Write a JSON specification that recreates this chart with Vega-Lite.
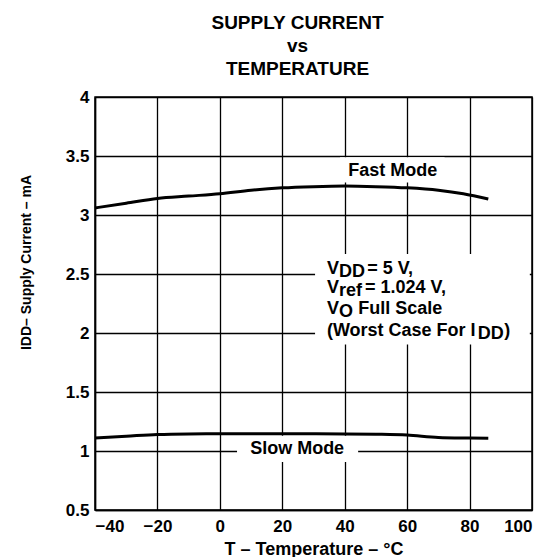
{
  "$schema": "https://vega.github.io/schema/vega-lite/v6.json",
  "autosize": "none",
  "width": 437,
  "height": 413,
  "padding": {"left": 95, "top": 97, "right": 17, "bottom": 47},
  "background": "white",
  "config": {
    "font": "Liberation Sans",
    "view": {"stroke": "black", "strokeWidth": 1.5},
    "axis": {
      "labelFont": "Liberation Sans", "labelFontWeight": "bold", "labelColor": "black",
      "titleFont": "Liberation Sans", "titleFontWeight": "bold", "titleColor": "black",
      "gridColor": "black", "gridOpacity": 1, "gridWidth": 1.3,
      "domainColor": "black", "domainWidth": 1.5, "ticks": false
    }
  },
  "title": {
    "text": ["SUPPLY CURRENT", "vs", "TEMPERATURE"],
    "fontSize": 19, "fontWeight": "bold", "font": "Liberation Sans", "color": "black",
    "lineHeight": 23, "anchor": "middle", "dx": -16, "offset": 9
  },
  "datasets": {
    "curves": [
      {"mode": "Fast", "T": -40, "I": 3.06},
      {"mode": "Fast", "T": -30, "I": 3.10},
      {"mode": "Fast", "T": -20, "I": 3.14},
      {"mode": "Fast", "T": -10, "I": 3.16},
      {"mode": "Fast", "T": 0, "I": 3.18},
      {"mode": "Fast", "T": 10, "I": 3.21},
      {"mode": "Fast", "T": 20, "I": 3.23},
      {"mode": "Fast", "T": 30, "I": 3.24},
      {"mode": "Fast", "T": 40, "I": 3.245},
      {"mode": "Fast", "T": 50, "I": 3.24},
      {"mode": "Fast", "T": 60, "I": 3.23},
      {"mode": "Fast", "T": 70, "I": 3.21},
      {"mode": "Fast", "T": 78, "I": 3.18},
      {"mode": "Fast", "T": 86, "I": 3.135},
      {"mode": "Slow", "T": -40, "I": 1.11},
      {"mode": "Slow", "T": -30, "I": 1.125},
      {"mode": "Slow", "T": -20, "I": 1.14},
      {"mode": "Slow", "T": -10, "I": 1.145},
      {"mode": "Slow", "T": 0, "I": 1.146},
      {"mode": "Slow", "T": 20, "I": 1.146},
      {"mode": "Slow", "T": 40, "I": 1.145},
      {"mode": "Slow", "T": 50, "I": 1.142},
      {"mode": "Slow", "T": 60, "I": 1.135},
      {"mode": "Slow", "T": 70, "I": 1.115},
      {"mode": "Slow", "T": 80, "I": 1.11},
      {"mode": "Slow", "T": 86, "I": 1.108}
    ],
    "boxes": [
      {"T": 38.5, "T2": 72, "I": 3.49, "I2": 3.275},
      {"T": 5.5, "T2": 44.3, "I": 1.13, "I2": 0.906},
      {"T": 30.5, "T2": 99.3, "I": 2.67, "I2": 1.902}
    ],
    "notes": [
      {"T": 41.1, "I": 3.327, "text": "Fast Mode"},
      {"T": 9.7, "I": 0.972, "text": "Slow Mode"},
      {"T": 34.3, "I": 2.50, "text": "V"},
      {"T": 38.2, "I": 2.475, "text": "DD"},
      {"T": 47.2, "I": 2.50, "text": "= 5 V,"},
      {"T": 34.3, "I": 2.335, "text": "V"},
      {"T": 38.2, "I": 2.31, "text": "ref"},
      {"T": 46.5, "I": 2.335, "text": "= 1.024 V,"},
      {"T": 34.3, "I": 2.159, "text": "V"},
      {"T": 38.2, "I": 2.132, "text": "O"},
      {"T": 44.3, "I": 2.159, "text": "Full Scale"},
      {"T": 34.3, "I": 1.972, "text": "(Worst Case For I"},
      {"T": 82.6, "I": 1.947, "text": "DD"},
      {"T": 91.1, "I": 1.972, "text": ")"}
    ]
  },
  "layer": [
    {
      "data": {"name": "boxes"},
      "mark": {"type": "rect", "fill": "white", "stroke": null},
      "encoding": {
        "x": {"field": "T", "type": "quantitative", "scale": {"domain": [-40, 100]},
          "axis": {"values": [-40, -20, 0, 20, 40, 60, 80, 100], "labelFontSize": 17, "labelPadding": 8,
            "title": "T – Temperature – °C", "titleFontSize": 18, "titlePadding": 6}},
        "x2": {"field": "T2"},
        "y": {"field": "I", "type": "quantitative", "scale": {"domain": [0.5, 4]},
          "axis": {"values": [0.5, 1, 1.5, 2, 2.5, 3, 3.5, 4], "format": ".1~f", "labelFontSize": 17, "labelPadding": 6,
            "title": "IDD– Supply Current – mA", "titleFontSize": 14, "titleX": -62, "titleY": 165, "titleAlign": "center", "titleBaseline": "bottom"}},
        "y2": {"field": "I2"}
      }
    },
    {
      "data": {"name": "curves"},
      "mark": {"type": "line", "color": "black", "strokeWidth": 3, "interpolate": "monotone"},
      "encoding": {
        "x": {"field": "T", "type": "quantitative"},
        "y": {"field": "I", "type": "quantitative"},
        "detail": {"field": "mode"}
      }
    },
    {
      "data": {"name": "notes"},
      "mark": {"type": "text", "align": "left", "baseline": "alphabetic", "fontSize": 18, "fontWeight": "bold", "font": "Liberation Sans", "color": "black"},
      "encoding": {
        "x": {"field": "T", "type": "quantitative"},
        "y": {"field": "I", "type": "quantitative"},
        "text": {"field": "text"}
      }
    }
  ]
}
